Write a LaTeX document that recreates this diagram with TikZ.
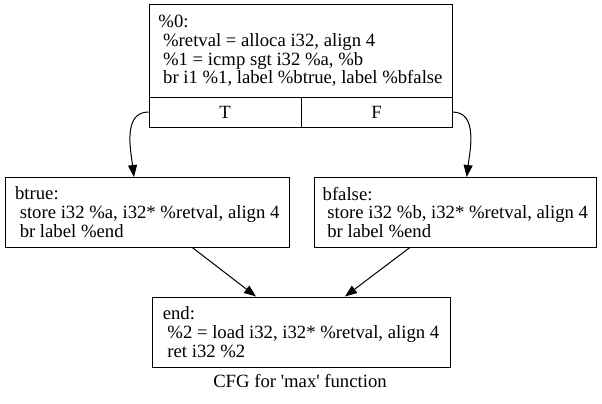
\documentclass[tikz,border=0pt]{standalone}
\usepackage{fontspec}
\setmainfont{Liberation Serif}
\usetikzlibrary{arrows.meta}
\newcommand{\Ind}{\hspace*{0.25em}}
\tikzstyle{block} = [rectangle,draw=black,line width=1pt,inner sep=0pt,align=left, font=\fontsize{18.7}{18.7}\selectfont]
\tikzstyle{port} = [rectangle,draw=black,line width=1pt,inner sep=0pt,minimum height=30pt, font=\fontsize{18.7}{18.7}\selectfont]
\tikzstyle{cfgedge} = [line width=1pt,-{Triangle[length=12pt,width=9pt]}]

\begin{document}
\begin{tikzpicture}[x=1pt,y=-1pt]
\useasboundingbox (0,0) rectangle (602,404);

% Define nodes
\node[block, minimum width=303pt, minimum height=92pt] (n0) at (300.5,51)
  {\%0:\\\Ind\%retval = alloca i32, align 4\\\Ind\%1 = icmp sgt i32 \%a, \%b\\\Ind br i1 \%1, label \%btrue, label \%bfalse};
\node[port, minimum width=152pt] (n0T) at (225,112)   {T};
\node[port, minimum width=151pt] (n0F) at (376.5,112) {F};

\node[block, minimum width=284.5pt, minimum height=69.5pt] (btrue) at (147.25,212.25)
  {btrue:\\\Ind store i32 \%a, i32* \%retval, align 4\\\Ind br label \%end};
\node[block, minimum width=282.7pt, minimum height=69.5pt] (bfalse) at (455.35,212.25)
  {bfalse:\\\Ind store i32 \%b, i32* \%retval, align 4\\\Ind br label \%end};

\node[block, minimum width=298pt, minimum height=70pt] (end) at (301,332)
  {end:\\\Ind\%2 = load i32, i32* \%retval, align 4\\\Ind ret i32 \%2};

\node[font=\fontsize{18.7}{18.7}\selectfont, anchor=base] (cap) at (300,387.7) {CFG for \textquotesingle max\textquotesingle{} function};

% Edges
\draw[cfgedge] (n0T.west) to[out=180,in=97] ([xshift=-13.25pt]btrue.north);
\draw[cfgedge] (n0F.east) to[out=0,in=83]   ([xshift=11.35pt]bfalse.north);
\draw[cfgedge] ([xshift=45pt]btrue.south)   -- ([xshift=-45pt]end.north);
\draw[cfgedge] ([xshift=-45.5pt]bfalse.south) -- ([xshift=44pt]end.north);

\end{tikzpicture}
\end{document}
